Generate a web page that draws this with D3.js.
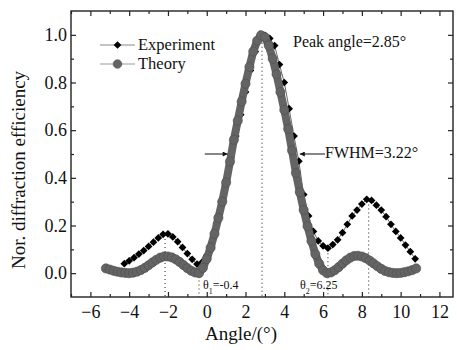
<!DOCTYPE html>
<html lang="en">
    <head>
        <meta charset="UTF-8" />
        <title>Diffraction efficiency vs angle</title>
        <script src="https://d3js.org/d3.v7.min.js"></script>
        <style>
            body { margin: 0; background: #fff; }
            svg text { font-family: "Liberation Serif", "Times New Roman", serif; fill: #111; }
        </style>
    </head>
    <body>
        <svg width="457" height="350"></svg>

        <script>
            // measured points (black diamonds)
            const expAngle = [
                -4.25, -4.0, -3.75, -3.5, -3.25, -3.0, -2.75, -2.5, -2.25, -2.0,
                -1.75, -1.5, -1.25, -1.0, -0.75, -0.5, -0.25, 0.0, 0.25, 0.5,
                0.75, 1.0, 1.25, 1.5, 1.75, 2.0, 2.25, 2.5, 2.75, 3.0,
                3.25, 3.5, 3.75, 4.0, 4.25, 4.5, 4.75, 5.0, 5.25, 5.5,
                5.75, 6.0, 6.25, 6.5, 6.75, 7.0, 7.25, 7.5, 7.75, 8.0,
                8.25, 8.5, 8.75, 9.0, 9.25, 9.5, 9.75, 10.0, 10.25, 10.5, 10.75
            ];
            const expEff = [
                0.04, 0.052, 0.065, 0.08, 0.095, 0.112, 0.13, 0.148, 0.163, 0.165,
                0.152, 0.132, 0.108, 0.082, 0.058, 0.038, 0.045, 0.075, 0.13, 0.21,
                0.3, 0.39, 0.485, 0.575, 0.665, 0.76, 0.85, 0.93, 0.985, 0.998,
                0.985, 0.955, 0.875, 0.8, 0.69, 0.575, 0.47, 0.33, 0.24, 0.175,
                0.135, 0.115, 0.105, 0.12, 0.14, 0.17, 0.205, 0.24, 0.265, 0.29,
                0.31, 0.305, 0.285, 0.265, 0.237, 0.205, 0.175, 0.148, 0.118, 0.09, 0.06
            ];

            // theory curve (grey circles)
            const theoryAngle = [
                -5.2, -5.0, -4.8, -4.6, -4.4, -4.2, -4.0, -3.8, -3.6, -3.4,
                -3.2, -3.0, -2.8, -2.6, -2.4, -2.2, -2.0, -1.8, -1.6, -1.4,
                -1.2, -1.0, -0.8, -0.6, -0.4, -0.2, 0.0, 0.2, 0.4, 0.6,
                0.8, 1.0, 1.2, 1.4, 1.6, 1.8, 2.0, 2.2, 2.4, 2.6,
                2.8, 3.0, 3.2, 3.4, 3.6, 3.8, 4.0, 4.2, 4.4, 4.6,
                4.8, 5.0, 5.2, 5.4, 5.6, 5.8, 6.0, 6.2, 6.4, 6.6,
                6.8, 7.0, 7.2, 7.4, 7.6, 7.8, 8.0, 8.2, 8.4, 8.6,
                8.8, 9.0, 9.2, 9.4, 9.6, 9.8, 10.0, 10.2, 10.4, 10.6, 10.8
            ];
            const theoryEff = [
                0.02, 0.015, 0.01, 0.006, 0.003, 0.001, 0.0, 0.002, 0.006, 0.013,
                0.022, 0.033, 0.045, 0.056, 0.065, 0.07, 0.07, 0.066, 0.058, 0.047,
                0.034, 0.021, 0.01, 0.003, 0.0, 0.022, 0.06, 0.107, 0.165, 0.232,
                0.3, 0.38, 0.468, 0.56, 0.64, 0.72, 0.795, 0.865, 0.93, 0.975,
                0.998, 0.99, 0.955, 0.9, 0.835, 0.76, 0.685, 0.605, 0.515, 0.42,
                0.34, 0.265, 0.197, 0.135, 0.08, 0.04, 0.012, 0.0, 0.003, 0.012,
                0.025, 0.04, 0.054, 0.065, 0.072, 0.073, 0.07, 0.063, 0.053, 0.041,
                0.029, 0.018, 0.009, 0.004, 0.001, 0.0, 0.001, 0.004, 0.008, 0.013, 0.02
            ];

            const xTicks = [-6, -4, -2, 0, 2, 4, 6, 8, 10, 12];
            const xMinor = [-7, -5, -3, -1, 1, 3, 5, 7, 9, 11];
            const yTicks = [0, 0.2, 0.4, 0.6, 0.8, 1.0];
            const yMinor = [0.1, 0.3, 0.5, 0.7, 0.9];

            // dotted guide lines: [angle, top value]
            const guideAngle = [-2.15, -0.4, 2.85, 6.25, 8.35];
            const guideTop = [0.16, 0.02, 1.0, 0.1, 0.305];

            const plotLeft = 71, plotRight = 453, plotTop = 11, plotBottom = 297;
            const serif = "Liberation Serif, Times New Roman, serif";

            const x = d3.scaleLinear().domain([-7, 12.7]).range([plotLeft, plotRight]);
            const y = d3.scaleLinear().domain([-0.1, 1.1]).range([plotBottom, plotTop]);

            const svg = d3.select("svg");

            // frame
            svg.append("rect")
                .attr("x", plotLeft).attr("y", plotTop)
                .attr("width", plotRight - plotLeft).attr("height", plotBottom - plotTop)
                .attr("fill", "none").attr("stroke", "#222").attr("stroke-width", 1.4);

            function styleAxis(g) {
                g.attr("font-family", serif);
                g.select(".domain").remove();
                g.selectAll("line").attr("stroke", "#222").attr("stroke-width", 1.2);
                g.selectAll("text")
                    .attr("font-family", serif)
                    .style("font-size", "18px").attr("fill", "#111");
            }

            svg.append("g").attr("transform", `translate(0,${plotBottom})`)
                .call(d3.axisBottom(x).tickValues(xTicks).tickSize(-5).tickPadding(8).tickFormat(d3.format("d")))
                .call(styleAxis);
            svg.append("g").attr("transform", `translate(0,${plotBottom})`)
                .call(d3.axisBottom(x).tickValues(xMinor).tickSize(-3).tickFormat(""))
                .call(styleAxis);
            svg.append("g").attr("transform", `translate(0,${plotTop})`)
                .call(d3.axisTop(x).tickValues(xTicks).tickSize(-5).tickFormat(""))
                .call(styleAxis);
            svg.append("g").attr("transform", `translate(0,${plotTop})`)
                .call(d3.axisTop(x).tickValues(xMinor).tickSize(-3).tickFormat(""))
                .call(styleAxis);

            svg.append("g").attr("transform", `translate(${plotLeft},0)`)
                .call(d3.axisLeft(y).tickValues(yTicks).tickSize(-5).tickPadding(4).tickFormat(d3.format(".1f")))
                .call(styleAxis);
            svg.append("g").attr("transform", `translate(${plotLeft},0)`)
                .call(d3.axisLeft(y).tickValues(yMinor).tickSize(-3).tickFormat(""))
                .call(styleAxis);
            svg.append("g").attr("transform", `translate(${plotRight},0)`)
                .call(d3.axisRight(y).tickValues(yTicks).tickSize(-5).tickFormat(""))
                .call(styleAxis);
            svg.append("g").attr("transform", `translate(${plotRight},0)`)
                .call(d3.axisRight(y).tickValues(yMinor).tickSize(-3).tickFormat(""))
                .call(styleAxis);

            // axis titles
            svg.append("text")
                .attr("x", 241).attr("y", 340)
                .attr("text-anchor", "middle")
                .style("font-size", "19px")
                .text("Angle/(°)");
            svg.append("text")
                .attr("transform", "translate(25,170) rotate(-90)")
                .attr("text-anchor", "middle")
                .style("font-size", "19px")
                .text("Nor. diffraction efficiency");

            // dotted guides
            svg.selectAll(".guide")
                .data(guideAngle)
                .enter()
                .append("line")
                .attr("class", "guide")
                .attr("x1", (d) => x(d)).attr("x2", (d) => x(d))
                .attr("y1", (d, i) => y(guideTop[i])).attr("y2", plotBottom)
                .attr("stroke", "#333").attr("stroke-width", 1.1)
                .attr("stroke-dasharray", "1,3");

            const expData = expAngle.map((a, i) => ({ a, v: expEff[i] }));
            const theoryData = theoryAngle.map((a, i) => ({ a, v: theoryEff[i] }));

            const line = d3.line().x((d) => x(d.a)).y((d) => y(d.v));

            // experiment: thin line + diamonds
            svg.append("path")
                .datum(expData)
                .attr("d", line)
                .attr("fill", "none")
                .attr("stroke", "#444").attr("stroke-width", 0.8);

            const diamond = d3.symbol().type(d3.symbolSquare).size(30);
            svg.selectAll(".exp")
                .data(expData)
                .enter()
                .append("path")
                .attr("class", "exp")
                .attr("d", diamond)
                .attr("transform", (d) => `translate(${x(d.a)},${y(d.v)}) rotate(45)`)
                .attr("fill", "#000");

            // theory: grey circles
            svg.append("path")
                .datum(theoryData)
                .attr("d", line)
                .attr("fill", "none")
                .attr("stroke", "#646464").attr("stroke-width", 8);
            svg.selectAll(".th")
                .data(theoryData)
                .enter()
                .append("circle")
                .attr("class", "th")
                .attr("cx", (d) => x(d.a)).attr("cy", (d) => y(d.v))
                .attr("r", 4.6)
                .attr("fill", "#646464").attr("stroke", "#4f4f4f").attr("stroke-width", 0.6);

            // legend
            svg.append("line").attr("x1", 100).attr("x2", 135).attr("y1", 45).attr("y2", 45)
                .attr("stroke", "#888").attr("stroke-width", 1);
            svg.append("path").attr("d", diamond)
                .attr("transform", "translate(117.5,45) rotate(45)").attr("fill", "#000");
            svg.append("text").attr("x", 138).attr("y", 50).style("font-size", "16.5px").text("Experiment");

            svg.append("line").attr("x1", 100).attr("x2", 135).attr("y1", 64).attr("y2", 64)
                .attr("stroke", "#999").attr("stroke-width", 1);
            svg.append("circle").attr("cx", 117.5).attr("cy", 64).attr("r", 4.3)
                .attr("fill", "#646464").attr("stroke", "#4f4f4f").attr("stroke-width", 0.6);
            svg.append("text").attr("x", 138).attr("y", 69).style("font-size", "16.5px").text("Theory");

            // annotations
            svg.append("text").attr("x", 293).attr("y", 47).style("font-size", "16px").text("Peak angle=2.85°");
            svg.append("text").attr("x", 325).attr("y", 158).style("font-size", "16px").text("FWHM=3.22°");

            const arrow = svg.append("defs").append("marker")
                .attr("id", "ah").attr("viewBox", "0 0 10 10")
                .attr("refX", 10).attr("refY", 5)
                .attr("markerWidth", 7).attr("markerHeight", 5)
                .attr("markerUnits", "userSpaceOnUse")
                .attr("orient", "auto");
            arrow.append("path").attr("d", "M0,0 L10,5 L0,10 z").attr("fill", "#111");

            svg.append("line")
                .attr("x1", x(-0.1)).attr("x2", x(1.08))
                .attr("y1", y(0.5)).attr("y2", y(0.5))
                .attr("stroke", "#111").attr("stroke-width", 1)
                .attr("marker-end", "url(#ah)");
            svg.append("line")
                .attr("x1", x(6.1)).attr("x2", x(4.8))
                .attr("y1", y(0.5)).attr("y2", y(0.5))
                .attr("stroke", "#111").attr("stroke-width", 1)
                .attr("marker-end", "url(#ah)");

            const t1 = svg.append("text").attr("x", 203).attr("y", 289).style("font-size", "12px");
            t1.append("tspan").text("θ");
            t1.append("tspan").attr("baseline-shift", "sub").style("font-size", "8px").text("1");
            t1.append("tspan").text("=-0.4");

            const t2 = svg.append("text").attr("x", 300).attr("y", 289).style("font-size", "12px");
            t2.append("tspan").text("θ");
            t2.append("tspan").attr("baseline-shift", "sub").style("font-size", "8px").text("2");
            t2.append("tspan").text("=6.25");
        </script>
    </body>
</html>
